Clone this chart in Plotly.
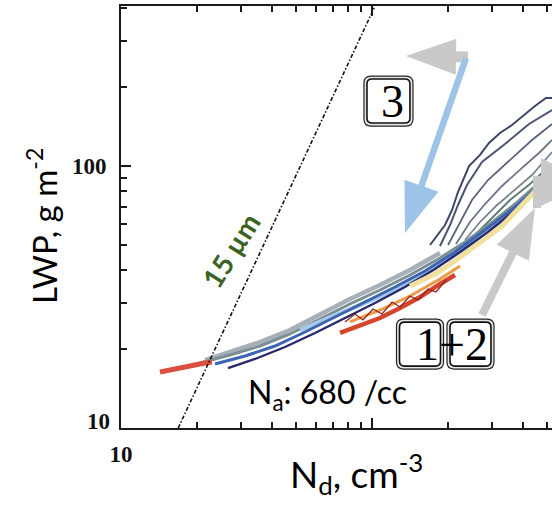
import math
import plotly.graph_objects as go

# ---------------- data ----------------
# outer (upper) contour lines of the joint PDF
ND_O1 = [170.3, 195.4, 208.4, 220.1, 243.5, 269.4, 292.5, 323.6, 361.2, 403.3, 446.1, 493.4, 521.4]
LWP_O1 = [49.94, 59.54, 67.93, 79.55, 100.0, 110.2, 122.4, 133.6, 143.4, 156.6, 169.4, 181.8, 181.8]
ND_O2 = [186.6, 204.6, 220.1, 239.0, 274.4, 338.8, 422.2, 521.4]
LWP_O2 = [49.51, 59.54, 70.98, 84.6, 103.6, 121.3, 144.7, 163.6]
ND_O3 = [200.9, 224.2, 250.2, 289.9, 354.6, 434.0, 521.4]
LWP_O3 = [49.94, 61.13, 74.18, 88.4, 105.4, 125.7, 144.7]
ND_O4 = [216.1, 245.7, 282.0, 329.6, 396.0, 467.0, 521.4]
LWP_O4 = [50.4, 61.13, 71.6, 83.9, 98.3, 113.1, 125.7]
ND_O5 = [234.7, 269.4, 311.9, 367.9, 434.0, 521.4]
LWP_O5 = [52.19, 61.13, 70.36, 80.98, 92.4, 113.1]
ND_O6 = [257.2, 300.7, 354.6, 426.1, 521.4]
LWP_O6 = [54.53, 63.31, 74.18, 85.35, 101.8]

# main band contour lines
ND_G1 = [21.61, 27.19, 35.8, 47.14, 62.1, 81.7, 107.6, 141.7, 186.6]
LWP_G1 = [18.17, 19.50, 21.29, 23.66, 27.24, 31.08, 35.15, 40.09, 46.56]
ND_G2 = [20.6, 27.19, 35.8, 47.14, 62.1, 81.7, 107.6, 141.7, 186.6, 234.7, 295.2, 371.3, 467.0, 521.4]
LWP_G2 = [17.70, 18.99, 20.56, 22.85, 26.06, 29.74, 33.63, 38.37, 44.56, 51.28, 60.06, 71.6, 86.9, 95.7]
ND_LB = [51.7, 68.03, 89.6, 117.9, 155.4, 204.6, 269.4, 338.8]
LWP_LB = [23.66, 26.29, 29.48, 33.04, 38.03, 44.56, 53.11, 62.22]
ND_B1 = [23.69, 31.19, 41.07, 54.10, 71.23, 93.78, 123.5, 162.6, 214.1, 282.0, 371.3, 467.0, 521.4]
LWP_B1 = [17.55, 18.83, 20.56, 23.25, 26.52, 30.27, 34.53, 39.74, 46.98, 56.98, 69.74, 84.6, 93.2]
ND_N1 = [26.69, 34.20, 45.02, 59.29, 78.06, 102.8, 135.3, 178.2, 224.2, 289.9, 371.3, 467.0, 521.4]
LWP_N1 = [16.94, 18.34, 20.38, 23.05, 26.29, 30.0, 34.53, 40.45, 46.98, 55.98, 67.93, 82.4, 90.0]
ND_YEL = [141.7, 178.2, 214.1, 269.4, 329.6, 399.6, 467.0]
LWP_YEL = [34.83, 38.71, 43.40, 50.83, 59.02, 71.6, 83.9]
ND_ORG = [81.7, 107.6, 141.7, 186.6, 224.2]
LWP_ORG = [25.39, 28.21, 31.90, 37.04, 41.53]
ND_RED = [74.6, 89.6, 107.6, 129.3, 155.4, 186.6, 214.1]
LWP_RED = [23.05, 24.51, 26.29, 28.71, 31.62, 35.46, 38.37]
ND_ZIG = [78.06, 85.56, 92.06, 100.9, 109.6, 120.2, 129.3, 141.7, 152.6, 167.2, 179.9, 197.2]
LWP_ZIG = [25.39, 27.24, 25.84, 28.46, 27.24, 30.27, 28.96, 31.90, 30.81, 33.93, 33.04, 36.72]
ND_TIP = [14.30, 15.97, 17.99, 20.6, 23.04]
LWP_TIP = [16.36, 16.65, 17.09, 17.55, 17.86]

# 15 micron effective-radius line
ND_15UM = [16.9, 102.8]
LWP_15UM = [10.0, 408.0]

# axis ticks
X_MAJOR = [10, 100]
X_MAJOR_TEXT = ["10", ""]
X_MINOR = [20, 30, 40, 50, 60, 70, 80, 90, 200, 300, 400, 500]
Y_MAJOR = [10, 100]
Y_MAJOR_TEXT = ["", "100"]
Y_LOW_LABEL = "10"
Y_MINOR = [20, 30, 40, 50, 60, 70, 80, 90, 200, 300, 400]

# annotation anchors (data units)
ARROW3_TAIL, ARROW3_TIP = (236.9, 258.2), (135.3, 55.5)
GRAY1_TAIL, GRAY1_TIP = (241.3, 260.6), (136.6, 263.0)
GRAY2_TAIL, GRAY2_TIP = (274.3, 27.0), (446.0, 69.1)
GRAY3_AT = (454.4, 69.1)
BOX3_AT = (116.3, 177.0)
BOX1_AT = (155.3, 20.9)
BOX2_AT = (246.8, 20.9)
TXT3_AT = (121.2, 177.0)
TXT12_AT = (208.3, 20.9)
TXT15_AT = (27.4, 47.8)
TXTNA_AT = (31.5, 13.5)

# ---------------- layout geometry ----------------
W, H = 552, 507
ML, MT, MR, MB = 121, 6, 0, 79
PW, PH = W - ML - MR, H - MT - MB
XR = [1.0, 2.7171]
YR = [1.0, 2.6107]


def to_px(nd, lwp):
    X = ML + (math.log10(nd) - XR[0]) / (XR[1] - XR[0]) * PW
    Y = MT + (YR[1] - math.log10(lwp)) / (YR[1] - YR[0]) * PH
    return X, Y


def to_paper(X, Y):
    return (X - ML) / PW, (MT + PH - Y) / PH


def path_from_px(pts, close=True):
    s = ""
    for i, (X, Y) in enumerate(pts):
        px_, py_ = to_paper(X, Y)
        s += ("M" if i == 0 else "L") + f"{px_:.5f},{py_:.5f} "
    return s + ("Z" if close else "")


def arrow_shape(tail, tip, shaft, hlen, hwid, color):
    x0, y0 = to_px(*tail)
    x1, y1 = to_px(*tip)
    dx, dy = x1 - x0, y1 - y0
    L = math.hypot(dx, dy)
    ux, uy = dx / L, dy / L
    nx, ny = -uy, ux
    bx, by = x1 - ux * hlen, y1 - uy * hlen
    pts = [
        (x0 + nx * shaft / 2, y0 + ny * shaft / 2),
        (bx + nx * shaft / 2, by + ny * shaft / 2),
        (bx + nx * hwid / 2, by + ny * hwid / 2),
        (x1, y1),
        (bx - nx * hwid / 2, by - ny * hwid / 2),
        (bx - nx * shaft / 2, by - ny * shaft / 2),
        (x0 - nx * shaft / 2, y0 - ny * shaft / 2),
    ]
    return dict(type="path", xref="paper", yref="paper", path=path_from_px(pts),
                fillcolor=color, line=dict(width=0), layer="above")


def rrect(cx, cy, w, h, r):
    x0, x1, y0, y1 = cx - w / 2, cx + w / 2, cy - h / 2, cy + h / 2

    def p(X, Y):
        a, b = to_paper(X, Y)
        return f"{a:.5f},{b:.5f}"
    return (f"M{p(x0 + r, y0)} L{p(x1 - r, y0)} Q{p(x1, y0)} {p(x1, y0 + r)} "
            f"L{p(x1, y1 - r)} Q{p(x1, y1)} {p(x1 - r, y1)} L{p(x0 + r, y1)} "
            f"Q{p(x0, y1)} {p(x0, y1 - r)} L{p(x0, y0 + r)} Q{p(x0, y0)} {p(x0 + r, y0)} Z")


def button(at, w, h):
    cx, cy = to_px(*at)
    return [
        dict(type="path", xref="paper", yref="paper", path=rrect(cx, cy, w, h, 7),
             fillcolor="#e6e6e6", line=dict(color="#222", width=1.2), layer="above"),
        dict(type="path", xref="paper", yref="paper", path=rrect(cx, cy, w - 6, h - 6, 5),
             fillcolor="white", line=dict(color="#111", width=1.6), layer="above"),
    ]


fig = go.Figure()

lines = [
    (ND_O1, LWP_O1, "#3d4666", 2.0),
    (ND_O2, LWP_O2, "#4b5472", 2.0),
    (ND_O3, LWP_O3, "#5a637c", 1.8),
    (ND_O4, LWP_O4, "#6b7488", 1.8),
    (ND_O5, LWP_O5, "#7c8590", 1.8),
    (ND_O6, LWP_O6, "#5f7f72", 2.0),
    (ND_G1, LWP_G1, "#a7afb8", 4.5),
    (ND_G2, LWP_G2, "#7a8f94", 3.0),
    (ND_LB, LWP_LB, "#a5c9e8", 4.5),
    (ND_B1, LWP_B1, "#3d63b3", 3.0),
    (ND_N1, LWP_N1, "#27296c", 2.4),
    (ND_YEL, LWP_YEL, "#f1df9e", 5.0),
    (ND_ORG, LWP_ORG, "#ef9a45", 3.0),
    (ND_RED, LWP_RED, "#d5452c", 4.5),
    (ND_ZIG, LWP_ZIG, "#8c2424", 1.3),
    (ND_TIP, LWP_TIP, "#d9503f", 5.0),
]
for xs, ys, c, w in lines:
    fig.add_trace(go.Scatter(x=xs, y=ys, mode="lines", line=dict(color=c, width=w),
                             hoverinfo="skip", showlegend=False))

fig.add_trace(go.Scatter(x=ND_15UM, y=LWP_15UM, mode="lines",
                         line=dict(color="#111", width=1.6, dash="4px,2px,1.5px,2px"),
                         hoverinfo="skip", showlegend=False))

shapes = []
shapes.append(arrow_shape(GRAY1_TAIL, GRAY1_TIP, 11, 50, 36, "#c9c9c9"))
shapes.append(arrow_shape(ARROW3_TAIL, ARROW3_TIP, 6.5, 50, 36, "#9dc3e6"))
shapes.append(arrow_shape(GRAY2_TAIL, GRAY2_TIP, 8, 50, 36, "#c9c9c9"))
gx, gy = to_px(*GRAY3_AT)
g3 = [(-4, 0), (-4, -32), (4, -32), (4, -50), (53, -26), (4, -2), (4, 0)]
shapes.append(dict(type="path", xref="paper", yref="paper",
                   path=path_from_px([(gx + a, gy + b) for a, b in g3]),
                   fillcolor="#c9c9c9", line=dict(width=0), layer="above"))
shapes += button(BOX3_AT, 49, 50)
shapes += button(BOX1_AT, 47, 50)
shapes += button(BOX2_AT, 47, 50)

tickfont = dict(family="Liberation Serif", size=23, color="#111", weight="bold")

lg = math.log10
ann = [
    dict(x=lg(TXT3_AT[0]), y=lg(TXT3_AT[1]), text="3", showarrow=False,
         xanchor="center", yanchor="middle",
         font=dict(family="Liberation Serif", size=46, color="#000")),
    dict(x=lg(TXT12_AT[0]), y=lg(TXT12_AT[1]), text="1+2", showarrow=False,
         xanchor="center", yanchor="middle",
         font=dict(family="Liberation Serif", size=46, color="#000")),
    dict(x=lg(TXT15_AT[0]), y=lg(TXT15_AT[1]), text="15 µm", showarrow=False, textangle=-58,
         xanchor="center", yanchor="middle",
         font=dict(family="Lato", size=28, color="#3a6321", weight="bold")),
    dict(x=lg(TXTNA_AT[0]), y=lg(TXTNA_AT[1]), text="N<sub>a</sub>: 680 /cc", showarrow=False,
         xanchor="left", yanchor="middle", font=dict(family="Lato", size=32, color="#000")),
    dict(xref="paper", yref="paper", x=to_paper(42, 0)[0], y=to_paper(0, 226)[1],
         xanchor="center", yanchor="middle",
         text="LWP, g m<sup>-2</sup>", showarrow=False, textangle=-90,
         font=dict(family="Lato", size=33, color="#000")),
    dict(xref="paper", yref="paper", x=to_paper(356, 0)[0], y=to_paper(0, 474)[1],
         xanchor="center", yanchor="middle",
         text="N<sub>d</sub>, cm<sup>-3</sup>", showarrow=False,
         font=dict(family="Lato", size=37, color="#000")),
    dict(xref="paper", yref="paper", x=to_paper(112, 0)[0], y=to_paper(0, 421)[1],
         xanchor="right", yanchor="middle", text=Y_LOW_LABEL, showarrow=False,
         font=tickfont),
]
for a in ann:
    if "xref" not in a:
        a["xref"], a["yref"] = "x", "y"

fig.update_layout(
    width=W, height=H,
    margin=dict(l=ML, r=MR, t=MT, b=MB, pad=0),
    paper_bgcolor="white", plot_bgcolor="white",
    showlegend=False,
    xaxis=dict(type="log", range=XR, showgrid=False, zeroline=False, showline=True,
               linecolor="#1a1a1a", linewidth=2, mirror="ticks",
               ticks="inside", ticklen=10, tickwidth=1.5, tickcolor="#1a1a1a",
               tickmode="array", tickvals=X_MAJOR, ticktext=X_MAJOR_TEXT,
               tickfont=tickfont, ticklabelstandoff=4,
               minor=dict(ticks="inside", ticklen=6, tickwidth=1.5, tickcolor="#1a1a1a",
                          tickmode="array", tickvals=X_MINOR, showgrid=False)),
    yaxis=dict(type="log", range=YR, showgrid=False, zeroline=False, showline=True,
               linecolor="#1a1a1a", linewidth=2, mirror=False,
               ticks="inside", ticklen=10, tickwidth=1.5, tickcolor="#1a1a1a",
               tickmode="array", tickvals=Y_MAJOR, ticktext=Y_MAJOR_TEXT,
               tickfont=tickfont, ticklabelstandoff=8,
               minor=dict(ticks="inside", ticklen=6, tickwidth=1.5, tickcolor="#1a1a1a",
                          tickmode="array", tickvals=Y_MINOR, showgrid=False)),
    shapes=shapes,
    annotations=ann,
)

fig.write_html("out.html")
